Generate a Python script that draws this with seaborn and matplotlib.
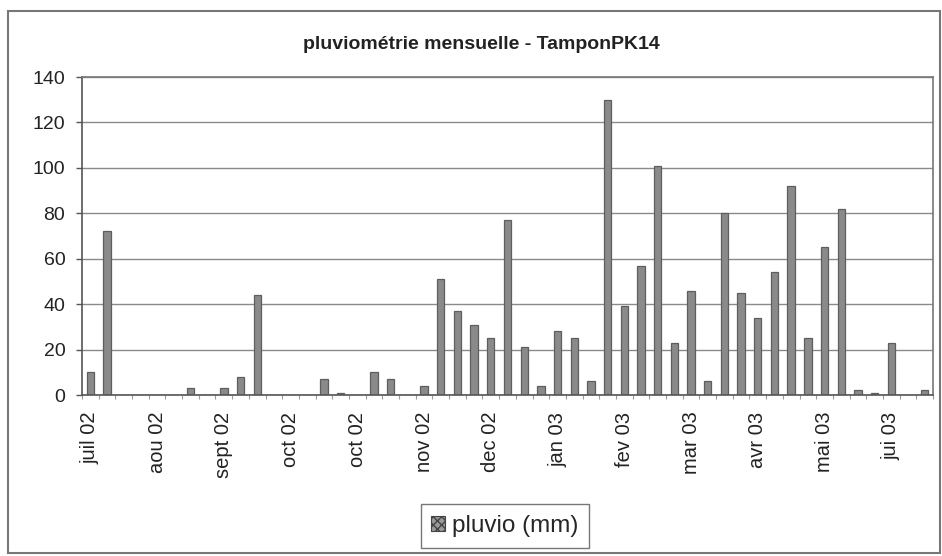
import matplotlib
matplotlib.use("Agg")
import matplotlib.pyplot as plt
from matplotlib.patches import Rectangle, Patch
import numpy as np
import pandas as pd
import seaborn as sns

# Weekly rainfall, July 2002 - June 2003 (mm)
semaines = list(range(51))
pluvio = [10, 72, 0, 0, 0, 0, 3, 0, 3, 8,
          44, 0, 0, 0, 7, 1, 0, 10, 7, 0,
          4, 51, 37, 31, 25, 77, 21, 4, 28, 25,
          6, 130, 39, 57, 101, 23, 46, 6, 80, 45,
          34, 54, 92, 25, 65, 82, 2, 1, 23, 0,
          2]
tick_pos = [0, 4, 8, 12, 16, 20, 24, 28, 32, 36, 40, 44, 48]
tick_labels = ["juil 02", "aou 02", "sept 02", "oct 02", "oct 02", "nov 02",
               "dec 02", "jan 03", "fev 03", "mar 03", "avr 03", "mai 03", "jui 03"]
y_ticks = [0, 20, 40, 60, 80, 100, 120, 140]

sns.set_theme(style="white")
plt.rcParams["font.family"] = ["Liberation Sans", "DejaVu Sans"]

df = pd.DataFrame({"semaine": semaines, "pluvio": pluvio})

fig = plt.figure(figsize=(9.42, 5.56), dpi=100)
ax = fig.add_axes([82 / 942, 1 - 395 / 556, (933 - 82) / 942, (395 - 77) / 556])

sns.barplot(data=df, x="semaine", y="pluvio", ax=ax, width=0.44,
            color="#8a8a8a", edgecolor="#5e5e5e", linewidth=0.9,
            saturation=1, errorbar=None)

ax.set_ylim(0, 140)
ax.set_xlim(-0.5, len(semaines) - 0.5)
ax.set_yticks(y_ticks)
ax.set_yticklabels([str(v) for v in y_ticks], fontsize=14, color="#222222")
ax.set_xticks(tick_pos)
ax.set_xticklabels(tick_labels, rotation=90, fontsize=14.5, color="#222222")
ax.set_xticks(np.arange(-0.5, len(semaines), 1), minor=True)
ax.set_xlabel("")
ax.set_ylabel("")

ax.yaxis.grid(True, color="#8a8a8a", linewidth=1.0)
ax.set_axisbelow(True)
ax.tick_params(axis="y", which="major", direction="out", length=4, width=1,
               color="#555555", pad=8, left=True)
ax.tick_params(axis="x", which="major", length=0, pad=12)
ax.tick_params(axis="x", which="minor", direction="out", length=3, width=0.8,
               color="#999999", bottom=True)

for side in ["left", "bottom"]:
    ax.spines[side].set_color("#555555")
    ax.spines[side].set_linewidth(1.2)
for side in ["top", "right"]:
    ax.spines[side].set_color("#777777")
    ax.spines[side].set_linewidth(1.2)

fig.text(481 / 942, 1 - 45 / 556, "pluviométrie mensuelle - TamponPK14",
         ha="center", va="center", fontsize=14, fontweight="bold", color="#222222")

handle = Patch(facecolor="#9a9a9a", edgecolor="#444444", hatch="xxxx", linewidth=0.8)
fig.legend([handle], ["pluvio (mm)"], loc="center",
           bbox_to_anchor=(505 / 942, 1 - 526 / 556), fontsize=17.5,
           frameon=True, fancybox=False, edgecolor="#555555",
           handlelength=0.55, handleheight=0.55, handletextpad=0.3,
           borderpad=0.45)

fig.patches.append(Rectangle((8 / 942, 3 / 556), (940 - 8) / 942, (545 - 3) / 556,
                             transform=fig.transFigure, fill=False,
                             edgecolor="#777777", linewidth=1.5))

fig.savefig("out.png", dpi=100)
